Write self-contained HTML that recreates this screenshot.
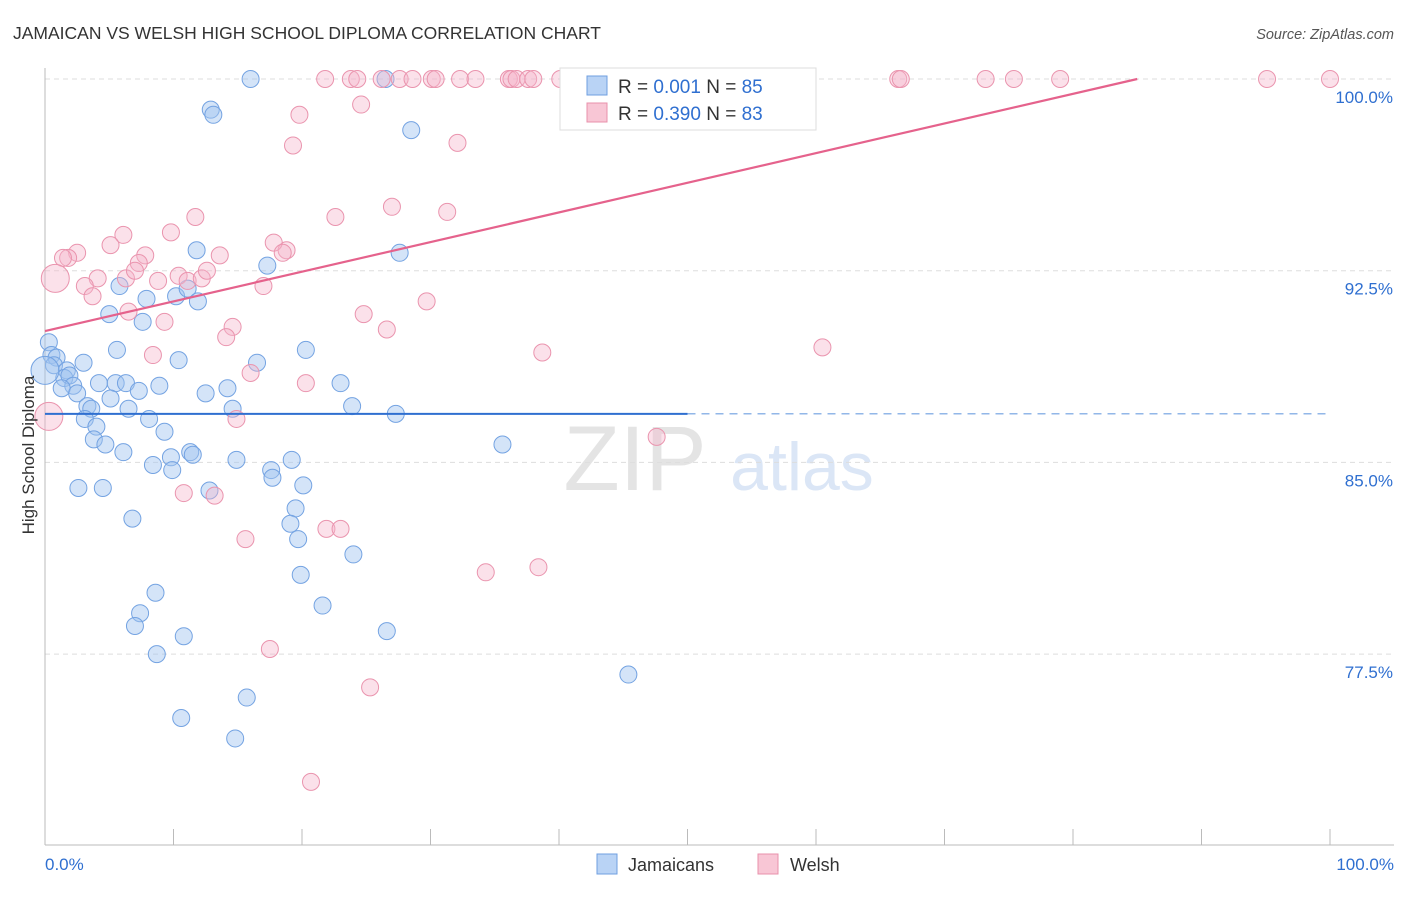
<!DOCTYPE html>
<html><head><meta charset="utf-8"><style>
body{margin:0;background:#fff;font-family:"Liberation Sans",sans-serif}
svg text{font-family:"Liberation Sans",sans-serif}
</style></head><body>
<svg id="c" width="1406" height="892" viewBox="0 0 1406 892" xmlns="http://www.w3.org/2000/svg">
<text x="13" y="39" font-size="17.5" fill="#333">JAMAICAN VS WELSH HIGH SCHOOL DIPLOMA CORRELATION CHART</text>
<text x="1394" y="39" font-size="14.5" fill="#555" font-style="italic" text-anchor="end">Source: ZipAtlas.com</text>
<g><text x="635" y="490" font-size="92" fill="#e4e4e4" font-family="Liberation Serif" text-anchor="middle">ZIP</text><text x="802" y="490" font-size="68" fill="#dbe6f6" text-anchor="middle">atlas</text></g>
<g id="grid"></g><g id="axes"></g><g id="pts"></g><g id="trend"></g>
<text transform="translate(34,455) rotate(-90)" font-size="17" fill="#333" text-anchor="middle">High School Diploma</text>
<g>
<rect x="560" y="68" width="256" height="62" fill="#fff" stroke="#ddd"/>
<rect x="587" y="76" width="20" height="19" fill="#b9d3f5" stroke="#6f9fe0"/>
<rect x="587" y="103" width="20" height="19" fill="#f8c6d5" stroke="#e890ab"/>
<text x="618" y="93" font-size="19" fill="#333">R = <tspan fill="#2f6fd0">0.001</tspan>   N = <tspan fill="#2f6fd0">85</tspan></text>
<text x="618" y="120" font-size="19" fill="#333">R = <tspan fill="#2f6fd0">0.390</tspan>   N = <tspan fill="#2f6fd0">83</tspan></text>
</g>
<g>
<rect x="597" y="854" width="20" height="20" fill="#b9d3f5" stroke="#6f9fe0"/>
<text x="628" y="871" font-size="18" fill="#333">Jamaicans</text>
<rect x="758" y="854" width="20" height="20" fill="#f8c6d5" stroke="#e890ab"/>
<text x="790" y="871" font-size="18" fill="#333">Welsh</text>
</g>
</svg>
<script>
const yTicks=[100,92.5,85,77.5];
const yTickLabels=["100.0%","92.5%","85.0%","77.5%"];
const xTickLabels=["0.0%","100.0%"];
const blueX=[16.0,26.5,12.9,13.1,28.5,11.8,27.6,17.3,5.8,7.9,10.2,11.1,11.9,5.0,7.6,0.3,0.5,0.9,3.0,5.6,10.4,20.3,16.5,0.7,1.7,1.5,1.9,4.2,5.5,6.3,8.9,2.2,1.3,2.5,7.3,12.5,14.2,23.0,5.1,3.3,3.6,6.5,23.9,14.6,27.3,8.1,3.1,4.0,9.3,3.8,4.7,6.1,35.6,9.8,11.3,11.5,8.4,9.9,14.9,19.2,17.6,17.7,2.6,4.5,12.8,20.1,19.5,19.1,6.8,19.7,24.0,19.9,8.6,7.4,21.6,7.0,26.6,10.8,8.7,45.4,15.7,10.6,14.8,0.0];
const blueY=[100,100,98.8,98.6,98.0,93.3,93.2,92.7,91.9,91.4,91.5,91.8,91.3,90.8,90.5,89.7,89.2,89.1,88.9,89.4,89.0,89.4,88.9,88.8,88.6,88.3,88.4,88.1,88.1,88.1,88.0,88.0,87.9,87.7,87.8,87.7,87.9,88.1,87.5,87.2,87.1,87.1,87.2,87.1,86.9,86.7,86.7,86.4,86.2,85.9,85.7,85.4,85.7,85.2,85.4,85.3,84.9,84.7,85.1,85.1,84.7,84.4,84.0,84.0,83.9,84.1,83.2,82.6,82.8,82.0,81.4,80.6,79.9,79.1,79.4,78.6,78.4,78.2,77.5,76.7,75.8,75.0,74.2,88.6];
const pinkX=[21.8,23.8,24.3,26.2,27.6,28.6,30.1,30.4,32.3,33.5,36.1,36.3,36.7,37.6,38.0,40.1,41.1,41.4,43.1,43.7,66.4,66.6,73.2,75.4,79.0,95.1,100,19.8,24.6,19.3,32.1,27.0,31.3,11.7,22.6,9.8,6.1,5.1,2.5,1.8,1.4,7.8,13.6,18.8,17.8,18.5,7.3,4.1,6.3,8.8,10.4,11.1,12.2,12.6,7.0,3.1,17.0,3.7,6.5,24.8,14.6,9.3,14.1,26.6,29.7,8.4,38.7,60.5,16.0,20.3,14.9,47.6,10.8,13.2,15.6,21.9,23.0,34.3,38.4,17.5,25.3,20.7,0.8,0.3];
const pinkY=[100,100,100,100,100,100,100,100,100,100,100,100,100,100,100,100,100,100,100,100,100,100,100,100,100,100,100,98.6,99.0,97.4,97.5,95.0,94.8,94.6,94.6,94.0,93.9,93.5,93.2,93.0,93.0,93.1,93.1,93.3,93.6,93.2,92.8,92.2,92.2,92.1,92.3,92.1,92.2,92.5,92.5,91.9,91.9,91.5,90.9,90.8,90.3,90.5,89.9,90.2,91.3,89.2,89.3,89.5,88.5,88.1,86.7,86.0,83.8,83.7,82.0,82.4,82.4,80.7,80.9,77.7,76.2,72.5,92.2,86.8];
const blueTrend=[86.9,86.9];
const pinkTrend=[90.14,101.74];
const X0=45,X1=1330,Y100=79,PX_PER=25.56;
const sx=v=>X0+(X1-X0)*v/100;
const sy=v=>Y100+(100-v)*PX_PER;
const NS="http://www.w3.org/2000/svg";
function mk(parent,tag,attrs){const e=document.createElementNS(NS,tag);for(const k in attrs)e.setAttribute(k,attrs[k]);document.getElementById(parent).appendChild(e);return e;}
yTicks.forEach((t,i)=>{
 const l=mk('grid','line',{x1:45,x2:1394,y1:sy(t),y2:sy(t),stroke:'#ddd','stroke-dasharray':'5,4'});
 
 
 const tx=mk('grid','text',{x:1393,y:sy(t)+24,'font-size':17,fill:'#2f6fd0','text-anchor':'end'});
 tx.textContent=yTickLabels[i];
 
 
});
const ax=mk('axes','line',{x1:45,x2:45,y1:68,y2:845,stroke:'#bbb'});


const bx=mk('axes','line',{x1:45,x2:1394,y1:845,y2:845,stroke:'#bbb'});


for(let i=0;i<=10;i++){
 const t=mk('axes','line',{x1:sx(i*10),x2:sx(i*10),y1:829,y2:845,stroke:'#bbb'});
 
 
}
[[0,'start',45],[100,'end',1394]].forEach((d,i)=>{
 const t=mk('axes','text',{x:d[2],y:870,'font-size':17,fill:'#2f6fd0','text-anchor':d[1]});
 t.textContent=xTickLabels[i];
 
 
});
function dots(xs,ys,fill,stroke,name){
 xs.forEach((x,i)=>{
  const big=(i===xs.length-1)||(name==='welsh-point'&&i===xs.length-2);
  const c=mk('pts','circle',{cx:sx(x),cy:sy(ys[i]),r:big?14:8.5,fill:fill,stroke:stroke,'stroke-width':1});
  
  
 });
}
dots(blueX,blueY,'rgba(160,195,240,0.45)','#74a3e2','jamaican-point');
dots(pinkX,pinkY,'rgba(246,180,202,0.4)','#ea94ae','welsh-point');
const bm=mk('trend','line',{x1:sx(0),x2:sx(50),y1:sy(blueTrend[0]),y2:sy(blueTrend[0]+(blueTrend[1]-blueTrend[0])*0.5),stroke:'#2f6fd0','stroke-width':2});


const bd=mk('trend','line',{x1:sx(50),x2:sx(100),y1:sy(blueTrend[0]+(blueTrend[1]-blueTrend[0])*0.5),y2:sy(blueTrend[1]),stroke:'#6f9fe0','stroke-width':1.2,'stroke-dasharray':'8,6'});


let xe=100,ye=pinkTrend[1];
if(pinkTrend[1]>100){xe=100*(100-pinkTrend[0])/(pinkTrend[1]-pinkTrend[0]);ye=100;}
const pm=mk('trend','line',{x1:sx(0),x2:sx(xe),y1:sy(pinkTrend[0]),y2:sy(ye),stroke:'#e5628c','stroke-width':2.2});


</script>
</body></html>
